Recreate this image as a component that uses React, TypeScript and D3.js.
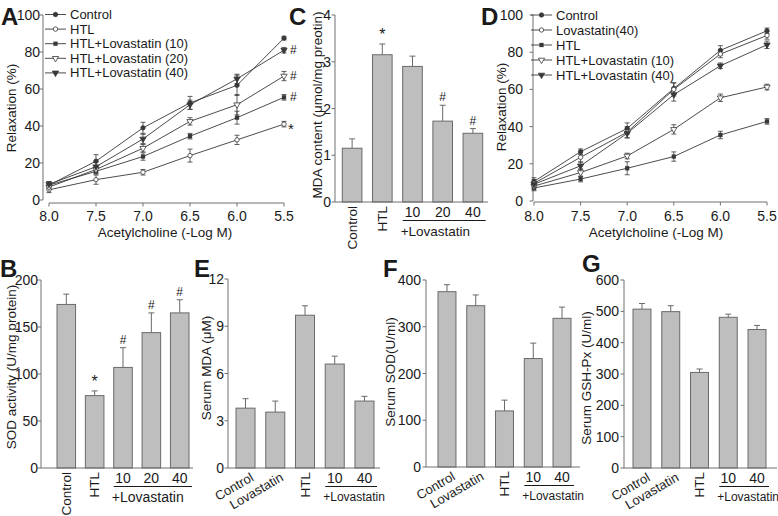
import React from "react";
import * as d3 from "d3";

const FONT = "'Liberation Sans', Arial, Helvetica, sans-serif";
const INK = "#1a1a1a";
const AXIS = "#707070";
const LINE = "#383838";
const BAR_FILL = "#bebebe";
const BAR_STROKE = "#6a6a6a";

// ---------- Shared x values (Acetylcholine, -Log M) ----------
const achLogM = [8.0, 7.5, 7.0, 6.5, 6.0, 5.5];
const relaxTicks = [0, 20, 40, 60, 80, 100];

// ---------- Panel A ----------
const aNames = ["Control", "HTL", "HTL+Lovastatin (10)", "HTL+Lovastatin (20)", "HTL+Lovastatin (40)"];
const aControl = [8, 21, 39, 52.5, 62, 87.5];
const aControlErr = [2, 3.5, 3, 3.5, 5.5, 1];
const aHTL = [5.5, 11, 15, 24, 32.5, 41];
const aHTLErr = [1.5, 2.5, 1.5, 3.5, 2.5, 1.5];
const aLov10 = [8, 15.5, 23.5, 34.5, 44.5, 55.5];
const aLov10Err = [1, 1.5, 2, 1.5, 3.5, 1.5];
const aLov20 = [7, 16.5, 28, 42.5, 51.5, 67];
const aLov20Err = [1, 2, 2, 2, 5.5, 2.5];
const aLov40 = [8.5, 18, 33, 51.5, 65.5, 81];
const aLov40Err = [1.5, 3, 2.5, 2.5, 2.5, 1.5];
const aSignif = ["", "*", "#", "#", "#"];

// ---------- Panel D ----------
const dNames = ["Control", "Lovastatin(40)", "HTL", "HTL+Lovastatin (10)", "HTL+Lovastatin (40)"];
const dControl = [10.5, 26.5, 39, 60.5, 81, 91.5];
const dControlErr = [2, 1.5, 3, 3, 2.5, 1.5];
const dLov40 = [9.5, 23.5, 37, 60, 79, 89];
const dLov40Err = [2, 2.5, 3, 3.5, 2, 2];
const dHTL = [7, 11.8, 17.6, 23.9, 35.5, 42.8];
const dHTLErr = [1.5, 1.5, 3.5, 2.5, 2, 1.5];
const dHTLLov10 = [8, 15.3, 24.2, 38.5, 55.5, 61.3];
const dHTLLov10Err = [1.5, 2, 1.5, 2.5, 2, 1.5];
const dHTLLov40 = [9, 18.9, 36.4, 57.2, 72.7, 84];
const dHTLLov40Err = [1.5, 2, 2.5, 3.5, 1.5, 2];
const dSignif = ["", "", "", "", ""];

// ---------- Panel B (SOD activity) ----------
const tissueCats = ["Control", "HTL", "10", "20", "40"];
const bValues = [174, 77, 107, 144, 165];
const bErr = [11, 5, 21, 21, 14];
const bSignif = ["", "*", "#", "#", "#"];

// ---------- Panel C (MDA content) ----------
const cValues = [1.15, 3.15, 2.9, 1.73, 1.47];
const cErr = [0.2, 0.23, 0.22, 0.34, 0.1];
const cSignif = ["", "*", "", "#", "#"];

// ---------- Panels E, F, G (serum) ----------
const serumCats = ["Control", "Lovastatin", "HTL", "10", "40"];
const eValues = [3.8, 3.55, 9.7, 6.6, 4.25];
const eErr = [0.6, 0.7, 0.6, 0.5, 0.3];
const fValues = [375, 345, 120, 232, 318];
const fErr = [15, 23, 23, 33, 24];
const gValues = [507, 499, 305, 481, 442];
const gErr = [18, 19, 11, 10, 13];
const noSignif = ["", "", "", "", ""];

// marker styles (not data)
const markerKinds = ["dot", "ring", "square", "triOpen", "triFilled"];

function Marker({ kind, x, y }: { kind: string; x: number; y: number }) {
  if (kind === "dot" || kind === "ring") {
    return <circle cx={x} cy={y} r={2.2} fill={kind === "dot" ? LINE : "#fff"} stroke={LINE} strokeWidth={0.8} />;
  }
  if (kind === "square") {
    const p = d3.symbol(d3.symbolSquare, 18)() as string;
    return <path d={p} transform={`translate(${x},${y})`} fill={LINE} />;
  }
  const p = d3.symbol(d3.symbolTriangle, 17)() as string;
  return (
    <path
      d={p}
      transform={`translate(${x},${y}) rotate(180)`}
      fill={kind === "triFilled" ? LINE : "#fff"}
      stroke={LINE}
      strokeWidth={0.8}
    />
  );
}

type Series = { name: string; values: number[]; errs: number[]; kind: string; mark: string };

function LinePanel(props: {
  series: Series[];
  xRange: [number, number];
  yRange: [number, number];
  yAxisX: number;
  xAxisY: number;
  yLabelEnd: number;
  xTickY: number;
  xTitleX: number;
  xTitleY: number;
  yTitleX: number;
  yTitleY: number;
  legendX: number;
  legendY: number;
  legendStep: number;
}) {
  const p = props;
  const x = d3.scaleLinear().domain([8, 5.5]).range(p.xRange);
  const y = d3.scaleLinear().domain([0, 100]).range(p.yRange);
  const line = d3
    .line<number>()
    .x((_, i) => x(achLogM[i]))
    .y((v) => y(v));
  return (
    <g>
      <line x1={p.yAxisX} x2={p.yAxisX} y1={y(0)} y2={y(100)} stroke={AXIS} />
      {relaxTicks.map((t) => (
        <g key={t}>
          <line x1={p.yAxisX - 3.5} x2={p.yAxisX} y1={y(t)} y2={y(t)} stroke={AXIS} />
          <text x={p.yLabelEnd} y={y(t)} textAnchor="end" dominantBaseline="central" fontSize={14}>
            {t}
          </text>
        </g>
      ))}
      <line x1={x(8)} x2={x(5.5)} y1={p.xAxisY} y2={p.xAxisY} stroke={AXIS} />
      {achLogM.map((t) => (
        <g key={t}>
          <line x1={x(t)} x2={x(t)} y1={p.xAxisY} y2={p.xAxisY + 3.5} stroke={AXIS} />
          <text x={x(t)} y={p.xTickY} textAnchor="middle" fontSize={14}>
            {t.toFixed(1)}
          </text>
        </g>
      ))}
      <text x={p.xTitleX} y={p.xTitleY} textAnchor="middle" fontSize={13.5}>
        Acetylcholine (-Log M)
      </text>
      <text transform={`translate(${p.yTitleX},${p.yTitleY}) rotate(-90)`} textAnchor="middle" fontSize={13.5}>
        Relaxation (%)
      </text>
      {p.series.map((s) => (
        <g key={s.name}>
          <path d={line(s.values) as string} fill="none" stroke={LINE} strokeWidth={0.9} />
          {s.values.map((v, i) => {
            const cx = x(achLogM[i]);
            const e = s.errs[i];
            return (
              <g key={i} stroke={LINE} strokeWidth={0.8}>
                <line x1={cx} x2={cx} y1={y(v - e)} y2={y(v + e)} />
                <line x1={cx - 2.5} x2={cx + 2.5} y1={y(v + e)} y2={y(v + e)} />
                <line x1={cx - 2.5} x2={cx + 2.5} y1={y(v - e)} y2={y(v - e)} />
              </g>
            );
          })}
        </g>
      ))}
      {p.series.map((s) => (
        <g key={s.name + "m"}>
          {s.values.map((v, i) => (
            <Marker key={i} kind={s.kind} x={x(achLogM[i])} y={y(v)} />
          ))}
          {s.mark ? (
            <text
              x={x(5.5) + (s.mark === "*" ? 4 : 6)}
              y={y(s.values[s.values.length - 1]) + (s.mark === "*" ? 4 : 0)}
              dominantBaseline="central"
              fontSize={s.mark === "*" ? 15 : 12}
            >
              {s.mark}
            </text>
          ) : null}
        </g>
      ))}
      {p.series.map((s, i) => {
        const ly = p.legendY + i * p.legendStep;
        return (
          <g key={s.name + "l"}>
            <line x1={p.legendX} x2={p.legendX + 21} y1={ly} y2={ly} stroke={LINE} strokeWidth={0.9} />
            <Marker kind={s.kind} x={p.legendX + 10.5} y={ly} />
            <text x={p.legendX + 25} y={ly} dominantBaseline="central" fontSize={13}>
              {s.name}
            </text>
          </g>
        );
      })}
    </g>
  );
}

function BarPanel(props: {
  cats: string[];
  vals: number[];
  errs: number[];
  marks: string[];
  yMax: number;
  yStep: number;
  yRange: [number, number];
  yAxisX: number;
  bandRange: [number, number];
  pad: number;
  xAxisEnd: number;
  slanted: boolean;
  yTitle: string;
  yTitleX: number;
  yTitleY: number;
  yLabelEnd: number;
  groupFont: number;
}) {
  const p = props;
  const y = d3.scaleLinear().domain([0, p.yMax]).range(p.yRange);
  const x = d3.scaleBand<string>().domain(p.cats).range(p.bandRange).paddingInner(p.pad).paddingOuter(0);
  const bw = x.bandwidth();
  const ticks = d3.range(0, p.yMax + p.yStep / 2, p.yStep);
  const axisY = y(0);
  const numeric = p.cats.filter((c) => /^\d+$/.test(c));
  const gx0 = x(numeric[0]) as number;
  const gx1 = (x(numeric[numeric.length - 1]) as number) + bw + 3;
  return (
    <g>
      <line x1={p.yAxisX} x2={p.yAxisX} y1={y(0)} y2={y(p.yMax)} stroke={AXIS} />
      {ticks.map((t) => (
        <g key={t}>
          <line x1={p.yAxisX - 3.5} x2={p.yAxisX} y1={y(t)} y2={y(t)} stroke={AXIS} />
          <text x={p.yLabelEnd} y={y(t)} textAnchor="end" dominantBaseline="central" fontSize={14}>
            {t}
          </text>
        </g>
      ))}
      <text transform={`translate(${p.yTitleX},${p.yTitleY}) rotate(-90)`} textAnchor="middle" fontSize={13.5}>
        {p.yTitle}
      </text>
      {p.cats.map((c, i) => {
        const bx = x(c) as number;
        const cx = bx + bw / 2;
        const v = p.vals[i];
        const top = y(v + p.errs[i]);
        return (
          <g key={c}>
            <line x1={cx} x2={cx} y1={y(v)} y2={top} stroke={BAR_STROKE} strokeWidth={1} />
            <line x1={cx - 3} x2={cx + 3} y1={top} y2={top} stroke={BAR_STROKE} strokeWidth={1} />
            <rect x={bx} y={y(v)} width={bw} height={axisY - y(v)} fill={BAR_FILL} stroke={BAR_STROKE} strokeWidth={1} />
            {p.marks[i] ? (
              <text x={cx} y={top - 4} textAnchor="middle" fontSize={p.marks[i] === "*" ? 16 : 12}>
                {p.marks[i]}
              </text>
            ) : null}
          </g>
        );
      })}
      <line x1={p.yAxisX} x2={p.xAxisEnd} y1={axisY} y2={axisY} stroke={AXIS} />
      {p.cats.map((c) => {
        const cx = (x(c) as number) + bw / 2;
        if (/^\d+$/.test(c)) {
          return (
            <text key={c} x={cx} y={axisY + 10} textAnchor="middle" dominantBaseline="central" fontSize={14}>
              {c}
            </text>
          );
        }
        if (p.slanted && c !== "HTL") {
          return (
            <text key={c} transform={`translate(${cx + 9},${axisY + 12}) rotate(-30)`} textAnchor="end" fontSize={13}>
              {c}
            </text>
          );
        }
        return (
          <text key={c} transform={`translate(${cx + 4.7},${axisY + 4}) rotate(-90)`} textAnchor="end" fontSize={13.5}>
            {c}
          </text>
        );
      })}
      <line x1={gx0} x2={gx1} y1={axisY + 18.5} y2={axisY + 18.5} stroke={INK} strokeWidth={1} />
      <text x={gx0 - 2} y={axisY + 29} dominantBaseline="central" fontSize={p.groupFont}>
        +Lovastatin
      </text>
    </g>
  );
}

function Letter({ x, y, t }: { x: number; y: number; t: string }) {
  return (
    <text x={x} y={y} fontSize={24} fontWeight="bold">
      {t}
    </text>
  );
}

export default function App() {
  const aSeries: Series[] = [
    { name: aNames[0], values: aControl, errs: aControlErr, kind: markerKinds[0], mark: aSignif[0] },
    { name: aNames[1], values: aHTL, errs: aHTLErr, kind: markerKinds[1], mark: aSignif[1] },
    { name: aNames[2], values: aLov10, errs: aLov10Err, kind: markerKinds[2], mark: aSignif[2] },
    { name: aNames[3], values: aLov20, errs: aLov20Err, kind: markerKinds[3], mark: aSignif[3] },
    { name: aNames[4], values: aLov40, errs: aLov40Err, kind: markerKinds[4], mark: aSignif[4] },
  ];
  const dSeries: Series[] = [
    { name: dNames[0], values: dControl, errs: dControlErr, kind: markerKinds[0], mark: dSignif[0] },
    { name: dNames[1], values: dLov40, errs: dLov40Err, kind: markerKinds[1], mark: dSignif[1] },
    { name: dNames[2], values: dHTL, errs: dHTLErr, kind: markerKinds[2], mark: dSignif[2] },
    { name: dNames[3], values: dHTLLov10, errs: dHTLLov10Err, kind: markerKinds[3], mark: dSignif[3] },
    { name: dNames[4], values: dHTLLov40, errs: dHTLLov40Err, kind: markerKinds[4], mark: dSignif[4] },
  ];
  return (
    <svg
      width={778}
      height={516}
      style={{ position: "absolute", left: 0, top: 0, background: "#fff" }}
      fontFamily={FONT}
      fill={INK}
    >
      <rect width={778} height={516} fill="#fff" />
      <LinePanel
        series={aSeries}
        xRange={[49, 284]}
        yRange={[200, 15]}
        yAxisX={43}
        xAxisY={203}
        yLabelEnd={40}
        xTickY={221}
        xTitleX={165}
        xTitleY={237}
        yTitleX={16}
        yTitleY={108}
        legendX={45}
        legendY={14.5}
        legendStep={14.6}
      />
      <LinePanel
        series={dSeries}
        xRange={[534, 767]}
        yRange={[201, 15]}
        yAxisX={533}
        xAxisY={202}
        yLabelEnd={523}
        xTickY={221}
        xTitleX={656}
        xTitleY={237}
        yTitleX={506}
        yTitleY={107}
        legendX={531}
        legendY={15}
        legendStep={15}
      />
      <BarPanel
        cats={tissueCats}
        vals={cValues}
        errs={cErr}
        marks={cSignif}
        yMax={4}
        yStep={1}
        yRange={[202, 15]}
        yAxisX={335}
        bandRange={[342.3, 482.7]}
        pad={0.35}
        xAxisEnd={488}
        slanted={false}
        yTitle="MDA content (μmol/mg preotin)"
        yTitleX={322}
        yTitleY={105}
        yLabelEnd={331}
        groupFont={13.5}
      />
      <BarPanel
        cats={tissueCats}
        vals={bValues}
        errs={bErr}
        marks={bSignif}
        yMax={200}
        yStep={50}
        yRange={[468, 280]}
        yAxisX={41}
        bandRange={[57, 189]}
        pad={0.345}
        xAxisEnd={193}
        slanted={false}
        yTitle="SOD activity (U/mg protein)"
        yTitleX={16}
        yTitleY={367}
        yLabelEnd={38}
        groupFont={14}
      />
      <BarPanel
        cats={serumCats}
        vals={eValues}
        errs={eErr}
        marks={noSignif}
        yMax={12}
        yStep={3}
        yRange={[468, 279]}
        yAxisX={228}
        bandRange={[236, 374]}
        pad={0.36}
        xAxisEnd={380}
        slanted={true}
        yTitle="Serum MDA (μM)"
        yTitleX={211}
        yTitleY={368}
        yLabelEnd={224}
        groupFont={12}
      />
      <BarPanel
        cats={serumCats}
        vals={fValues}
        errs={fErr}
        marks={noSignif}
        yMax={400}
        yStep={100}
        yRange={[467, 280]}
        yAxisX={426}
        bandRange={[438, 571]}
        pad={0.375}
        xAxisEnd={580}
        slanted={true}
        yTitle="Serum SOD(U/ml)"
        yTitleX={395}
        yTitleY={372}
        yLabelEnd={421}
        groupFont={12}
      />
      <BarPanel
        cats={serumCats}
        vals={gValues}
        errs={gErr}
        marks={noSignif}
        yMax={600}
        yStep={100}
        yRange={[468, 280]}
        yAxisX={624}
        bandRange={[633, 766]}
        pad={0.375}
        xAxisEnd={777}
        slanted={true}
        yTitle="Serum GSH-Px (U/ml)"
        yTitleX={591}
        yTitleY={378}
        yLabelEnd={619}
        groupFont={12}
      />
      <Letter x={1} y={25} t="A" />
      <Letter x={289} y={25} t="C" />
      <Letter x={481} y={25} t="D" />
      <Letter x={0} y={277} t="B" />
      <Letter x={194} y={277} t="E" />
      <Letter x={383} y={277} t="F" />
      <Letter x={582} y={272} t="G" />
    </svg>
  );
}
